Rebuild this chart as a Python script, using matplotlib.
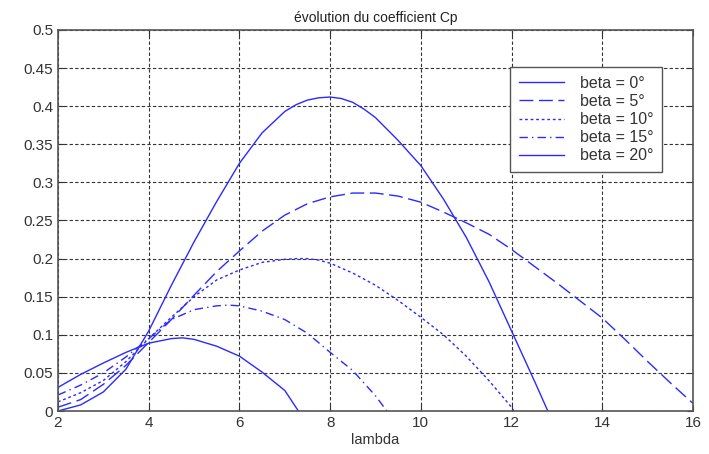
import matplotlib
matplotlib.use("Agg")
import matplotlib.pyplot as plt

# ---------- DATA ----------
lam_0 = [2, 2.5, 3, 3.5, 4, 4.5, 5, 5.5, 6, 6.5, 7, 7.25, 7.5, 7.75, 8, 8.25, 8.5, 8.75, 9, 9.5,
         10, 10.5, 11, 11.5, 12, 12.5, 12.8]
cp_0 = [0, 0.008, 0.025, 0.055, 0.105, 0.165, 0.222, 0.275, 0.325, 0.365, 0.393, 0.402, 0.408, 0.411,
        0.412, 0.41, 0.405, 0.396, 0.385, 0.355, 0.322, 0.278, 0.228, 0.17, 0.105, 0.04, 0]

lam_5 = [2, 2.5, 3, 3.5, 4, 4.5, 5, 5.5, 6, 6.5, 7, 7.5, 8, 8.5, 9, 9.5, 10, 10.5, 11, 11.5, 12,
         12.5, 13, 13.5, 14, 14.5, 15, 15.5, 16]
cp_5 = [0.005, 0.015, 0.035, 0.06, 0.09, 0.12, 0.152, 0.183, 0.21, 0.236, 0.257, 0.272, 0.281, 0.286,
        0.286, 0.282, 0.274, 0.261, 0.247, 0.232, 0.212, 0.19, 0.168, 0.145, 0.122, 0.094, 0.065, 0.037, 0.01]

lam_10 = [2, 2.5, 3, 3.5, 4, 4.5, 5, 5.5, 6, 6.5, 7, 7.25, 7.5, 7.75, 8, 8.5, 9, 9.5, 10, 10.5, 11,
          11.5, 12, 12.05]
cp_10 = [0.012, 0.024, 0.04, 0.065, 0.095, 0.123, 0.15, 0.172, 0.185, 0.195, 0.199, 0.2, 0.2, 0.198,
         0.194, 0.181, 0.165, 0.145, 0.123, 0.1, 0.072, 0.04, 0.005, 0]

lam_15 = [2, 2.5, 3, 3.5, 4, 4.5, 5, 5.5, 5.75, 6, 6.5, 7, 7.5, 8, 8.5, 9, 9.25]
cp_15 = [0.021, 0.034, 0.05, 0.071, 0.095, 0.12, 0.133, 0.138, 0.139, 0.138, 0.131, 0.12, 0.102,
         0.077, 0.053, 0.02, 0]

lam_20 = [2, 2.5, 3, 3.5, 4, 4.5, 4.75, 5, 5.5, 6, 6.5, 7, 7.3]
cp_20 = [0.031, 0.048, 0.063, 0.077, 0.089, 0.095, 0.096, 0.094, 0.085, 0.072, 0.051, 0.027, 0]

labels = ["beta = 0°", "beta = 5°", "beta = 10°", "beta = 15°", "beta = 20°"]

# ---------- PLOT ----------
plt.rcParams["font.family"] = ["Liberation Sans", "DejaVu Sans"]
fig = plt.figure(figsize=(7.09, 4.54), dpi=100)
ax = fig.add_axes([0.0818, 0.0947, 0.8956, 0.8393])

blue = "#2a2aff"
styles = ["-", (0, (10, 4)), (0, (2, 2)), (0, (6, 3, 1, 3)), "-"]
series = [(lam_0, cp_0), (lam_5, cp_5), (lam_10, cp_10), (lam_15, cp_15), (lam_20, cp_20)]
for (x, y), ls, lab in zip(series, styles, labels):
    ax.plot(x, y, color=blue, linestyle=ls, linewidth=1.0, label=lab)

ax.set_xlim(2, 16)
ax.set_ylim(0, 0.5)
ax.set_xticks([2, 4, 6, 8, 10, 12, 14, 16])
ax.set_yticks([0, 0.05, 0.1, 0.15, 0.2, 0.25, 0.3, 0.35, 0.4, 0.45, 0.5])
ax.set_yticklabels(["0", "0.05", "0.1", "0.15", "0.2", "0.25", "0.3", "0.35", "0.4", "0.45", "0.5"])
ax.tick_params(direction="in", top=True, right=True, labelsize=11, colors="#333333", length=4)
ax.grid(True, color="#333333", linestyle=(0, (3, 2)), linewidth=0.8)
for s in ax.spines.values():
    s.set_color("#555555")
    s.set_linewidth(1.2)

ax.set_title("évolution du coefficient Cp", fontsize=10, color="#222222", pad=6)
ax.set_xlabel("lambda", fontsize=10.5, color="#333333", labelpad=2)

leg = ax.legend(loc="upper left", bbox_to_anchor=(0.712, 0.903), borderaxespad=0, fontsize=11.5,
                fancybox=False, framealpha=1, edgecolor="#555555", handlelength=2.8,
                handletextpad=1.0, borderpad=0.55, labelspacing=0.2)
for t in leg.get_texts():
    t.set_color("#333333")

fig.savefig("out.png", dpi=100)
